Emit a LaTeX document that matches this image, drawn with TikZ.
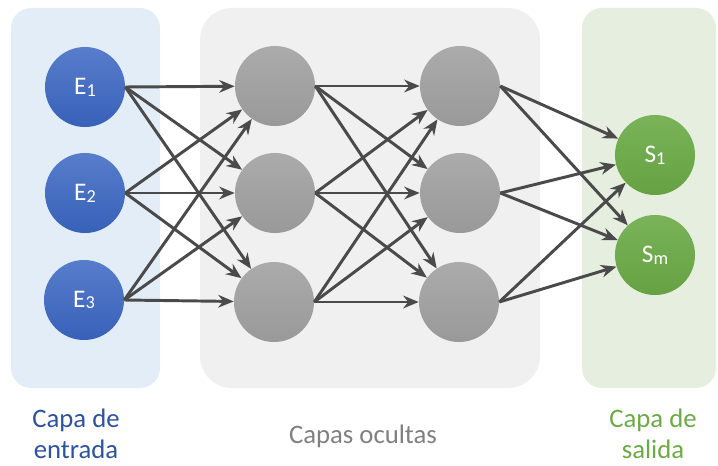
\documentclass[tikz,border=0pt]{standalone}
\usepackage{fontspec}
\setmainfont{Carlito}
\usetikzlibrary{arrows.meta}
\definecolor{entradafill}{HTML}{E3EDF8}
\definecolor{ocultafill}{HTML}{F0F0F0}
\definecolor{salidafill}{HTML}{E5EEDF}
\definecolor{entradaazul}{HTML}{3A66C2}
\definecolor{salidaverde}{HTML}{6BAA46}
\definecolor{linea}{HTML}{4A4A4A}

\begin{document}
\begin{tikzpicture}[x=0.025cm,y=-0.025cm,
  neurona/.style={circle,minimum size=2cm,inner sep=0pt,text=white,
    font=\fontsize{18}{20}\selectfont},
  entrada/.style={neurona,top color=entradaazul!85!white,bottom color=entradaazul!95!black},
  oculta/.style={neurona,top color=black!33,bottom color=black!40},
  salida/.style={neurona,top color=salidaverde!90!white,bottom color=salidaverde!95!black},
  flecha/.style={draw=linea,line width=2.1pt,-{Stealth[length=11pt,width=9pt]}},
  rotulo/.style={align=center,font=\fontsize{19}{22}\selectfont}]
\useasboundingbox (0,0) rectangle (718,466);

% panels
\fill[entradafill,rounded corners=0.5cm] (11,8) rectangle (160,388);
\fill[ocultafill,rounded corners=0.8cm] (200,8) rectangle (540,388);
\fill[salidafill,rounded corners=0.5cm] (582,8) rectangle (716,388);

% neurons
\node[entrada] (e1) at (85,87) {E\raisebox{-0.15ex}{\fontsize{13}{13}\selectfont 1}};
\node[entrada] (e2) at (85,193) {E\raisebox{-0.15ex}{\fontsize{13}{13}\selectfont 2}};
\node[entrada] (e3) at (84,300) {E\raisebox{-0.15ex}{\fontsize{13}{13}\selectfont 3}};

\node[oculta] (a1) at (275,86) {};
\node[oculta] (a2) at (275,193) {};
\node[oculta] (a3) at (274,302) {};

\node[oculta] (b1) at (460,86) {};
\node[oculta] (b2) at (460,193) {};
\node[oculta] (b3) at (459,302) {};

\node[salida] (s1) at (655,155) {S\raisebox{-0.15ex}{\fontsize{13}{13}\selectfont 1}};
\node[salida] (sm) at (655,255) {S\raisebox{-0.15ex}{\fontsize{13}{13}\selectfont m}};

% connections
\foreach \i in {1,2,3}
  \foreach \j in {1,2,3} {
    \draw[flecha] (e\i.east) -- (a\j);
    \draw[flecha] (a\i.east) -- (b\j);
  }
\foreach \i in {1,2,3}
  \foreach \j in {1,m}
    \draw[flecha] (b\i.east) -- (s\j);

% labels
\node[rotulo,text=entradaazul!80!black] (lentrada) at (76,434) {Capa de\\entrada};
\node[rotulo,text=black!50] (locultas) at (363,436) {Capas ocultas};
\node[rotulo,text=salidaverde] (lsalida) at (653,434) {Capa de\\salida};

\end{tikzpicture}
\end{document}
